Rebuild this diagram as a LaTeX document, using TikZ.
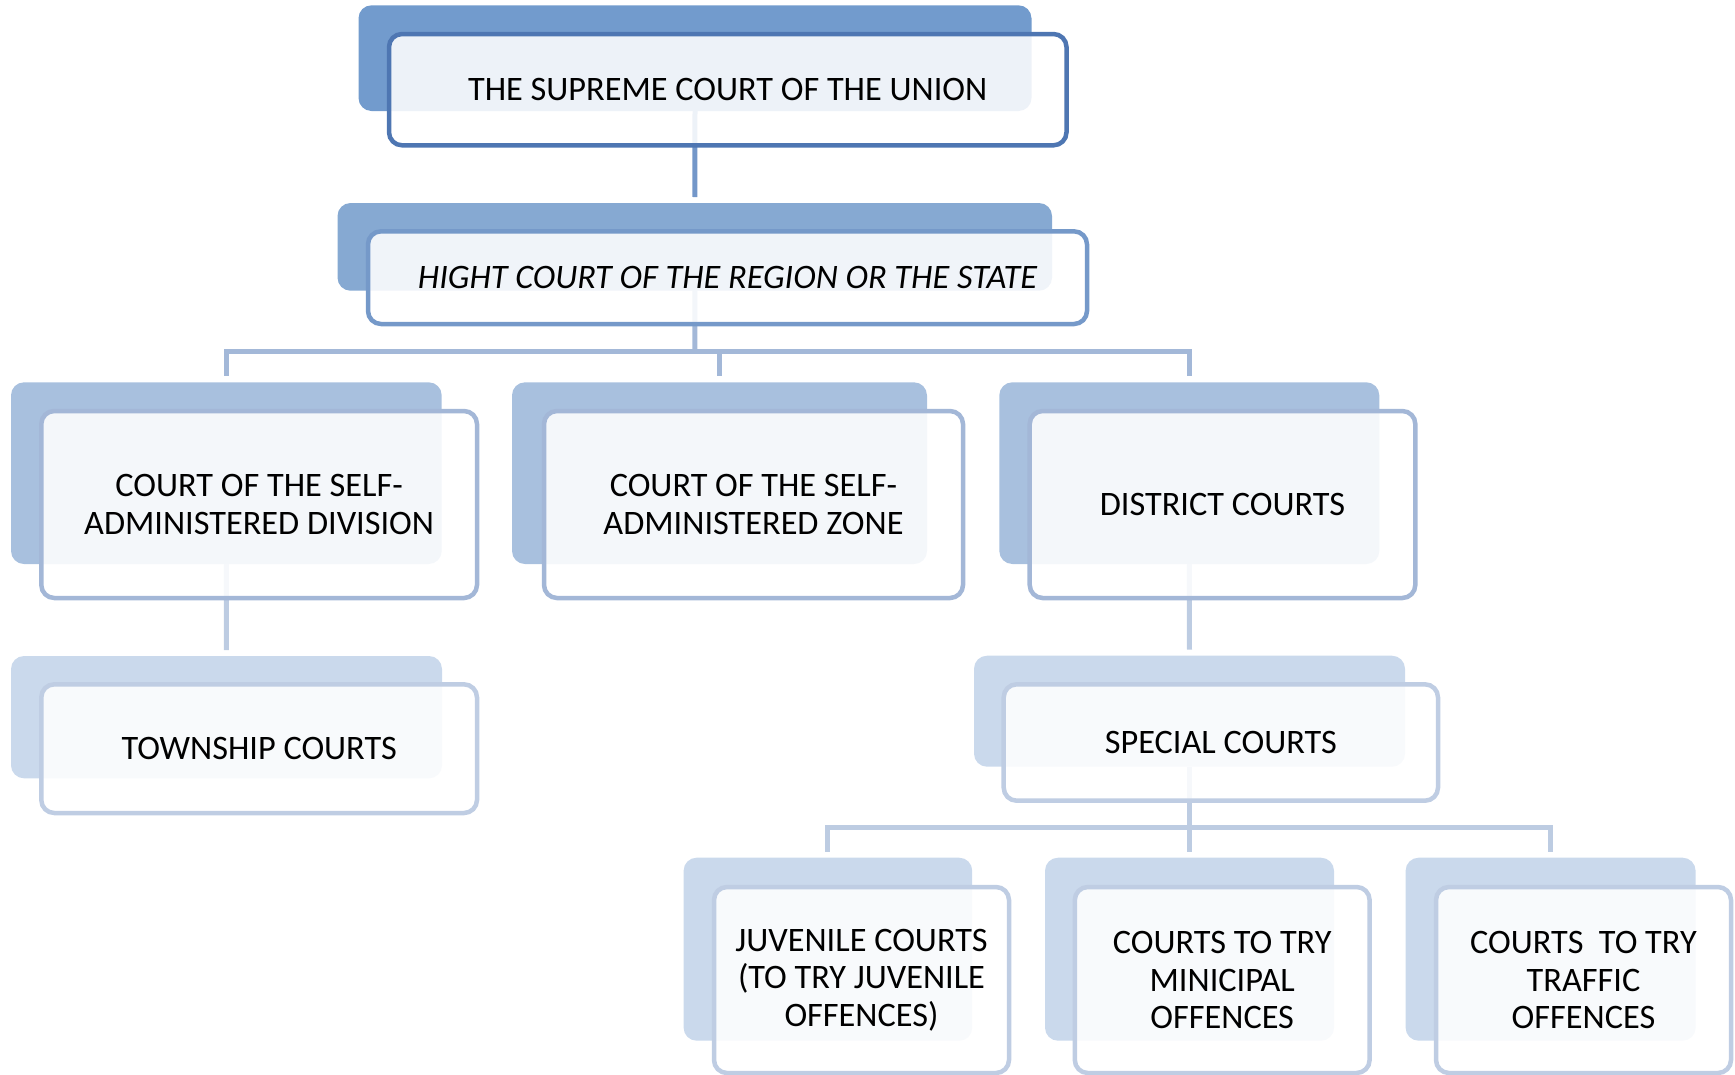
\documentclass[tikz,border=0pt]{standalone}
\usepackage{fontspec}
\setmainfont{Carlito}
\definecolor{backA}{HTML}{729BCD}
\definecolor{edgeA}{HTML}{4E76B2}
\definecolor{lineA}{HTML}{7397C9}
\definecolor{backB}{HTML}{86A9D2}
\definecolor{edgeB}{HTML}{7599C9}
\definecolor{lineB}{HTML}{A3B8D8}
\definecolor{backC}{HTML}{A8C0DE}
\definecolor{edgeC}{HTML}{A3B7D7}
\definecolor{backD}{HTML}{CAD9EC}
\definecolor{edgeD}{HTML}{BFCDE3}
\definecolor{lineC}{HTML}{BDCCE2}
\pgfdeclarelayer{links}
\pgfsetlayers{links,main}
\begin{document}
\begin{tikzpicture}[x=1pt,y=-1pt,
  back/.style={rectangle, rounded corners=13pt, inner sep=0pt, outer sep=0pt, draw=none},
  front/.style={rectangle, rounded corners=13pt, inner sep=0pt, outer sep=0pt,
    line width=4.5pt, fill=white, fill opacity=0.88, text opacity=1, text=black,
    align=center, font=\fontsize{34.3}{37.6}\selectfont},
  link/.style={line width=5pt, shorten >=6pt}]
\useasboundingbox (0,0) rectangle (1735,1074);

% level 1: supreme court
\node[back, fill=backA, minimum width=673pt, minimum height=105.7pt] (supB) at (695,58.15) {};
\node[front, draw=edgeA, minimum width=677.5pt, minimum height=111.3pt] (supF) at (727.75,89.65)
  {THE SUPREME COURT OF THE UNION};

% level 2: high court
\node[back, fill=backB, minimum width=714.5pt, minimum height=87.7pt] (highB) at (694.75,246.85) {};
\node[front, draw=edgeB, minimum width=719pt, minimum height=92.7pt] (highF) at (727.5,277.65)
  {\itshape HIGHT COURT OF THE REGION OR THE STATE};

% level 3
\node[back, fill=backC, minimum width=430.7pt, minimum height=181.7pt] (divB) at (226.35,473.15) {};
\node[front, draw=edgeC, minimum width=435.7pt, minimum height=187pt] (divF) at (259.15,504.5)
  {COURT OF THE SELF-\\ADMINISTERED DIVISION};

\node[back, fill=backC, minimum width=415pt, minimum height=181.7pt] (zoneB) at (719.5,473.15) {};
\node[front, draw=edgeC, minimum width=419pt, minimum height=187pt] (zoneF) at (753.5,504.5)
  {COURT OF THE SELF-\\ADMINISTERED ZONE};

\node[back, fill=backC, minimum width=380pt, minimum height=181.7pt] (distB) at (1189.3,473.15) {};
\node[front, draw=edgeC, minimum width=385.6pt, minimum height=187pt] (distF) at (1222.5,504.5)
  {DISTRICT COURTS};

% level 4
\node[back, fill=backD, minimum width=431pt, minimum height=122.3pt] (townB) at (226.5,717.15) {};
\node[front, draw=edgeD, minimum width=435.7pt, minimum height=128.7pt] (townF) at (259.15,748.65)
  {TOWNSHIP COURTS};

\node[back, fill=backD, minimum width=431pt, minimum height=111pt] (specB) at (1189.5,711.2) {};
\node[front, draw=edgeD, minimum width=434.3pt, minimum height=116.4pt] (specF) at (1220.85,742.5)
  {SPECIAL COURTS};

% level 5
\node[back, fill=backD, minimum width=288.6pt, minimum height=183pt] (juvB) at (827.9,949.2) {};
\node[front, draw=edgeD, minimum width=295pt, minimum height=186pt] (juvF) at (861.5,980)
  {JUVENILE COURTS\\(TO TRY JUVENILE\\OFFENCES)};

\node[back, fill=backD, minimum width=289pt, minimum height=183pt] (munB) at (1189.5,949.2) {};
\node[front, draw=edgeD, minimum width=294.8pt, minimum height=186pt] (munF) at (1222.2,980)
  {COURTS TO TRY\\MINICIPAL\\OFFENCES};

\node[back, fill=backD, minimum width=290pt, minimum height=183pt] (trafB) at (1550.6,949.2) {};
\node[front, draw=edgeD, minimum width=295pt, minimum height=186pt] (trafF) at (1583.5,980)
  {COURTS\ \ TO TRY\\TRAFFIC\\OFFENCES};

% connectors, kept behind the boxes
\coordinate (bus1) at (695,351);
\coordinate (bus2) at (1189.5,827.5);
\begin{pgfonlayer}{links}
  \draw[link, draw=lineA] (supB.south) -- (highB.north);
  \draw[link, draw=lineB, shorten >=0pt] (highB.south) -- (bus1);
  \draw[link, draw=lineB] (bus1) -| (divB.north);
  \draw[link, draw=lineB] (bus1) -| (zoneB.north);
  \draw[link, draw=lineB] (bus1) -| (distB.north);
  \draw[link, draw=lineC] (divB.south) -- (townB.north);
  \draw[link, draw=lineC] (distB.south) -- (specB.north);
  \draw[link, draw=lineC, shorten >=0pt] (specB.south) -- (bus2);
  \draw[link, draw=lineC] (bus2) -| (juvB.north);
  \draw[link, draw=lineC] (bus2) -| (munB.north);
  \draw[link, draw=lineC] (bus2) -| (trafB.north);
\end{pgfonlayer}
\end{tikzpicture}
\end{document}
